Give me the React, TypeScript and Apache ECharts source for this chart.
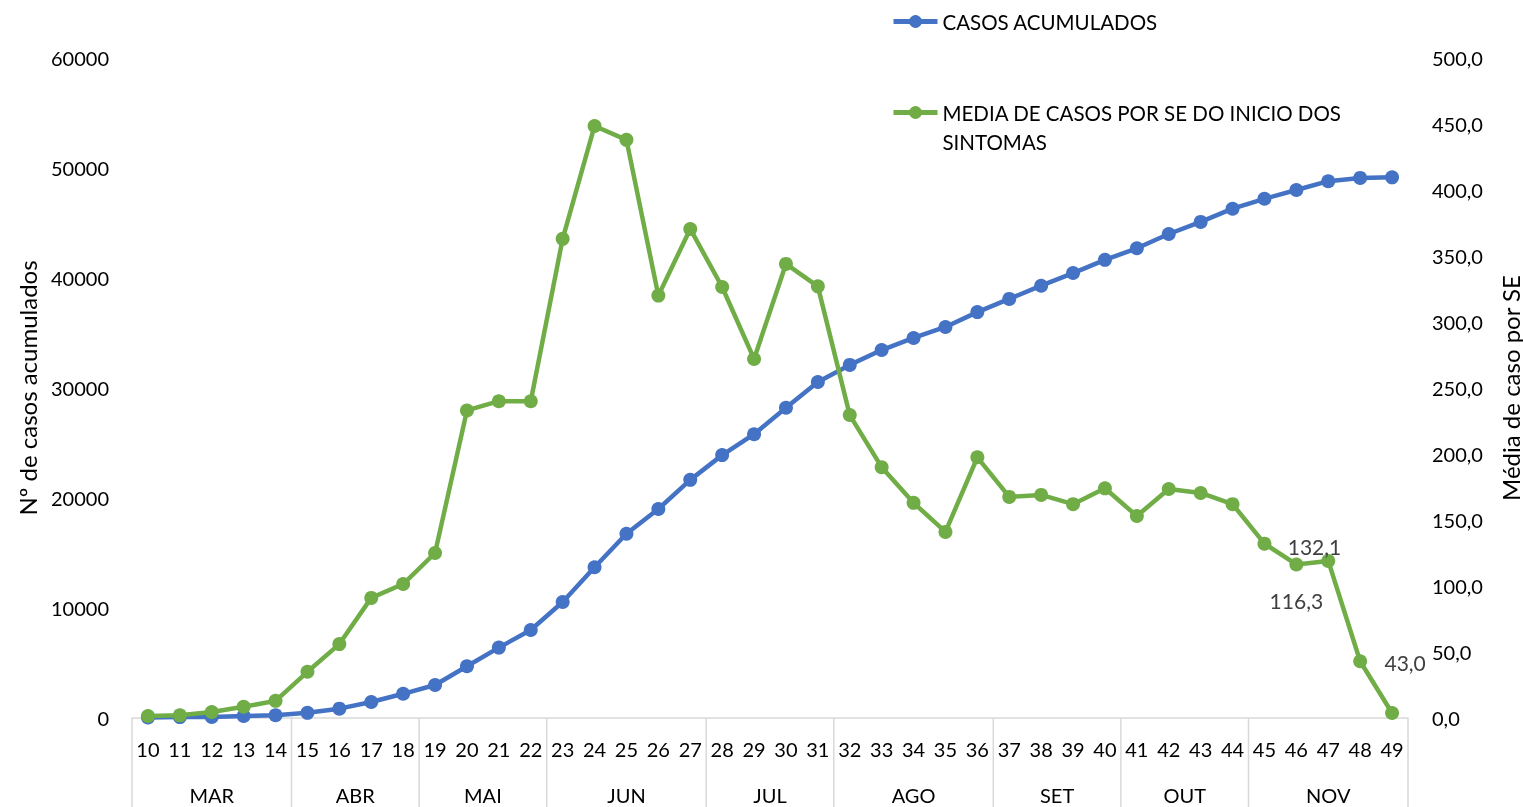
import React, { useEffect, useRef } from "react";
import * as echarts from "echarts";

const weeks = ["10","11","12","13","14","15","16","17","18","19","20","21","22","23","24","25","26","27","28","29","30","31","32","33","34","35","36","37","38","39","40","41","42","43","44","45","46","47","48","49"];

const casosAcumulados = [50, 80, 100, 180, 250, 470, 850, 1450, 2200, 3000, 4700, 6400, 8000, 10550, 13700, 16750, 19000, 21650, 23900, 25800, 28200, 30550, 32100, 33450, 34550, 35550, 36900, 38100, 39300, 40450, 41650, 42700, 44000, 45100, 46300, 47200, 48000, 48800, 49100, 49150];

const mediaCasos = [1.5, 2, 4.5, 8.5, 13, 35, 56, 91, 101.5, 125, 233, 240, 240, 363, 448.5, 438, 320, 370.5, 326.5, 272, 344, 327, 229.5, 190, 163, 141, 197.5, 167.5, 169, 162, 174, 153, 173.5, 170.5, 162, 132.1, 116.3, 119, 43.0, 3.8];

const monthNames = ["MAR", "ABR", "MAI", "JUN", "JUL", "AGO", "SET", "OUT", "NOV"];
const monthWeekCounts = [5, 4, 4, 5, 4, 5, 4, 4, 5];

const serieNames = ["CASOS ACUMULADOS", "MEDIA DE CASOS POR SE DO INICIO DOS SINTOMAS"];
const axisNames = ["Nº de casos acumulados", "Média de caso por SE"];

const FONT = "Lato";
const BLUE = "#4472C4";
const GREEN = "#70AD47";
const GRID = "#D9D9D9";

const fmtComma = (v: number) => v.toFixed(1).replace(".", ",");

export default function App() {
  const ref = useRef<HTMLDivElement>(null);
  useEffect(() => {
    if (!ref.current) return;
    const chart = echarts.init(ref.current, undefined, { renderer: "svg" });
    const labelOffsets: Record<number, number[]> = { 35: [50, 3], 36: [0, 36], 38: [45, 1] };
    const greenData = mediaCasos.map((v, i) => {
      const off = labelOffsets[i];
      if (!off) return v;
      return {
        value: v,
        label: {
          show: true,
          position: "inside",
          offset: off,
          formatter: (p: any) => fmtComma(p.value),
          color: "#404040",
          fontFamily: FONT,
          fontSize: 21,
        },
      };
    });
    chart.setOption({
      animation: false,
      textStyle: { fontFamily: FONT },
      grid: { left: 132, right: 115, top: 58, bottom: 89, containLabel: false, outerBoundsMode: "none" },
      legend: {
        orient: "vertical",
        left: 886,
        top: 2,
        itemGap: 33,
        itemWidth: 44,
        itemHeight: 16,
        lineStyle: { width: 5 },
        textStyle: { fontFamily: FONT, fontSize: 20.5, color: "#000", lineHeight: 29 },
        formatter: (name: string) =>
          name === serieNames[1] ? "\nMEDIA DE CASOS POR SE DO INICIO DOS\nSINTOMAS" : name,
        data: serieNames,
      },
      xAxis: {
        type: "category",
        data: weeks,
        boundaryGap: true,
        axisLine: { lineStyle: { color: GRID, width: 1.5 } },
        axisTick: { show: false },
        axisLabel: { color: "#000", fontFamily: FONT, fontSize: 20, margin: 21, interval: 0 },
        splitLine: { show: false },
      },
      yAxis: [
        {
          type: "value",
          min: 0,
          max: 60000,
          interval: 10000,
          name: axisNames[0],
          nameLocation: "middle",
          nameGap: 93,
          nameRotate: 90,
          nameTextStyle: { color: "#000", fontFamily: FONT, fontSize: 24 },
          axisLine: { show: false },
          axisTick: { show: false },
          splitLine: { show: false },
          axisLabel: { color: "#000", fontFamily: FONT, fontSize: 20, margin: 23, formatter: (v: number) => String(v) },
        },
        {
          type: "value",
          min: 0,
          max: 500,
          interval: 50,
          position: "right",
          name: axisNames[1],
          nameLocation: "middle",
          nameGap: 90,
          nameRotate: 90,
          nameTextStyle: { color: "#000", fontFamily: FONT, fontSize: 24 },
          axisLine: { show: false },
          axisTick: { show: false },
          splitLine: { show: false },
          axisLabel: { color: "#000", fontFamily: FONT, fontSize: 20, margin: 24, formatter: (v: number) => fmtComma(v) },
        },
      ],
      series: [
        {
          name: serieNames[0],
          type: "line",
          yAxisIndex: 0,
          data: casosAcumulados,
          symbol: "circle",
          symbolSize: 14,
          lineStyle: { color: BLUE, width: 4.5 },
          itemStyle: { color: BLUE },
          z: 2,
        },
        {
          name: serieNames[1],
          type: "line",
          yAxisIndex: 1,
          data: greenData,
          symbol: "circle",
          symbolSize: 14,
          lineStyle: { color: GREEN, width: 4.5 },
          itemStyle: { color: GREEN },
          z: 3,
        },
      ],
    });

    const xs = weeks.map((_, i) => chart.convertToPixel({ xAxisIndex: 0 }, i) as number);
    const step = xs[1] - xs[0];
    const y0 = chart.convertToPixel({ yAxisIndex: 0 }, 0) as number;
    const yBottom = 807;
    const graphics: any[] = [];
    let start = 0;
    const addLine = (x: number) =>
      graphics.push({
        type: "line",
        shape: { x1: x, y1: y0, x2: x, y2: yBottom },
        style: { stroke: GRID, lineWidth: 1.5 },
        silent: true,
      });
    addLine(xs[0] - step / 2);
    monthNames.forEach((m, k) => {
      const end = start + monthWeekCounts[k] - 1;
      const left = xs[start] - step / 2;
      const right = xs[end] + step / 2;
      addLine(right);
      graphics.push({
        type: "text",
        x: (left + right) / 2,
        y: 795,
        style: {
          text: m,
          fill: "#000",
          font: `20px ${FONT}`,
          align: "center",
          verticalAlign: "middle",
        },
        silent: true,
      });
      start = end + 1;
    });
    chart.setOption({ graphic: graphics });

    return () => chart.dispose();
  }, []);
  return <div ref={ref} style={{ position: "fixed", left: 0, top: 0, width: 1523, height: 807 }} />;
}
